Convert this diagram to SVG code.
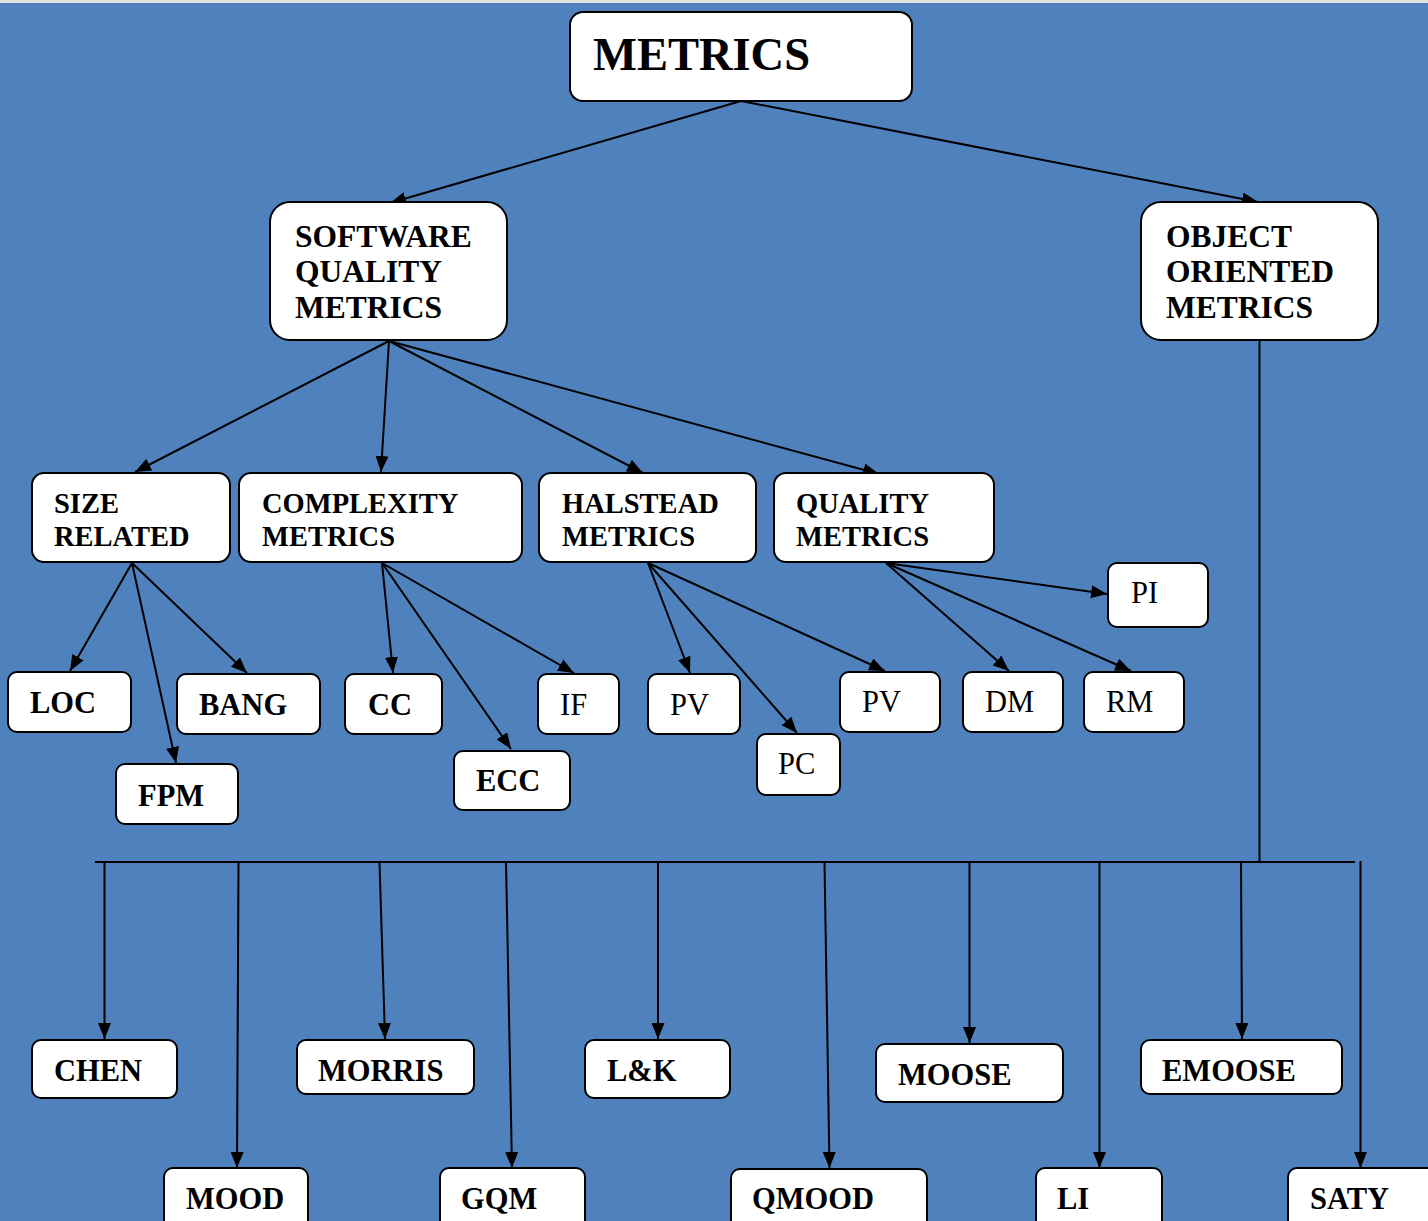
<svg xmlns="http://www.w3.org/2000/svg" width="1428" height="1221" viewBox="0 0 1428 1221">
<defs>
<marker id="ah" markerUnits="userSpaceOnUse" markerWidth="16" markerHeight="13" refX="16" refY="6.5" orient="auto">
<path d="M0,0 L16,6.5 L0,13 z" fill="#000"/>
</marker>
<style>
.box{fill:#fff;stroke:#000;stroke-width:2}
.t{font-family:"Liberation Serif","Times New Roman",serif;fill:#000}
.b{font-weight:bold}
.c{stroke:#000;stroke-width:2;fill:none}
.a{marker-end:url(#ah)}
</style>
</defs>
<rect x="0" y="0" width="1428" height="1221" fill="#4F81BD"/>
<rect x="0" y="0" width="1428" height="3" fill="#e2e2e2"/>

<g id="connectors">
<line class="c a" x1="741" y1="101" x2="390" y2="203"/>
<line class="c a" x1="741" y1="101" x2="1258" y2="202"/>
<line class="c a" x1="389" y1="341" x2="135" y2="472"/>
<line class="c a" x1="389" y1="341" x2="381" y2="472"/>
<line class="c a" x1="389" y1="341" x2="643" y2="473"/>
<line class="c a" x1="389" y1="341" x2="879" y2="474"/>
<line class="c a" x1="132" y1="563" x2="70" y2="671"/>
<line class="c a" x1="132" y1="563" x2="176" y2="763"/>
<line class="c a" x1="132" y1="563" x2="247" y2="673"/>
<line class="c a" x1="382" y1="563" x2="393" y2="673"/>
<line class="c a" x1="382" y1="563" x2="511" y2="749"/>
<line class="c a" x1="382" y1="563" x2="574" y2="673"/>
<line class="c a" x1="648" y1="563" x2="690" y2="673"/>
<line class="c a" x1="648" y1="563" x2="797" y2="733"/>
<line class="c a" x1="648" y1="563" x2="885" y2="671"/>
<line class="c a" x1="886" y1="563" x2="1107" y2="594"/>
<line class="c a" x1="886" y1="563" x2="1009" y2="671"/>
<line class="c a" x1="886" y1="563" x2="1131" y2="671"/>
<line class="c" x1="1259.5" y1="341" x2="1259.5" y2="862"/>
<line class="c" x1="95" y1="862" x2="1355" y2="862"/>
<line class="c a" x1="104.5" y1="862" x2="104.5" y2="1039"/>
<line class="c a" x1="238.5" y1="862" x2="237" y2="1168"/>
<line class="c a" x1="379.5" y1="862" x2="385" y2="1039"/>
<line class="c a" x1="506" y1="862" x2="512" y2="1168"/>
<line class="c a" x1="658" y1="862" x2="658" y2="1039"/>
<line class="c a" x1="824.5" y1="862" x2="829.5" y2="1168"/>
<line class="c a" x1="969.5" y1="862" x2="969.5" y2="1043"/>
<line class="c a" x1="1099.5" y1="862" x2="1099.5" y2="1168"/>
<line class="c a" x1="1241" y1="862" x2="1242" y2="1039"/>
<line class="c a" x1="1360.5" y1="861" x2="1360.5" y2="1168"/>
</g>

<g id="metrics">
<rect class="box" x="570" y="12" width="342" height="89" rx="13"/>
<text class="t b" x="593" y="70" font-size="46.5">METRICS</text>
</g>
<g id="sqm">
<rect class="box" x="270" y="202" width="237" height="138" rx="20"/>
<text class="t b" font-size="31.5"><tspan x="295" y="247">SOFTWARE</tspan><tspan x="295" y="282">QUALITY</tspan><tspan x="295" y="318">METRICS</tspan></text>
</g>
<g id="oom">
<rect class="box" x="1141" y="202" width="237" height="138" rx="20"/>
<text class="t b" font-size="31.5"><tspan x="1166" y="247">OBJECT</tspan><tspan x="1166" y="282">ORIENTED</tspan><tspan x="1166" y="318">METRICS</tspan></text>
</g>
<g id="size">
<rect class="box" x="32" y="473" width="198" height="89" rx="12"/>
<text class="t b" font-size="28.5"><tspan x="54" y="513">SIZE</tspan><tspan x="54" y="546">RELATED</tspan></text>
</g>
<g id="complexity">
<rect class="box" x="239" y="473" width="283" height="89" rx="12"/>
<text class="t b" font-size="28.5"><tspan x="262" y="513">COMPLEXITY</tspan><tspan x="262" y="546">METRICS</tspan></text>
</g>
<g id="halstead">
<rect class="box" x="539" y="473" width="217" height="89" rx="12"/>
<text class="t b" font-size="28.5"><tspan x="562" y="513">HALSTEAD</tspan><tspan x="562" y="546">METRICS</tspan></text>
</g>
<g id="quality">
<rect class="box" x="774" y="473" width="220" height="89" rx="12"/>
<text class="t b" font-size="28.5"><tspan x="796" y="513">QUALITY</tspan><tspan x="796" y="546">METRICS</tspan></text>
</g>

<g id="loc"><rect class="box" x="8" y="672" width="123" height="60" rx="9"/><text class="t b" x="30" y="713" font-size="30.5">LOC</text></g>
<g id="bang"><rect class="box" x="177" y="674" width="143" height="60" rx="9"/><text class="t b" x="199" y="715" font-size="30.5">BANG</text></g>
<g id="fpm"><rect class="box" x="116" y="764" width="122" height="60" rx="9"/><text class="t b" x="138" y="806" font-size="30.5">FPM</text></g>
<g id="cc"><rect class="box" x="345" y="674" width="97" height="60" rx="9"/><text class="t b" x="368" y="715" font-size="30.5">CC</text></g>
<g id="ecc"><rect class="box" x="454" y="751" width="116" height="59" rx="9"/><text class="t b" x="476" y="791" font-size="30.5">ECC</text></g>
<g id="if"><rect class="box" x="538" y="674" width="81" height="60" rx="9"/><text class="t" x="560" y="715" font-size="30.5">IF</text></g>
<g id="pv1"><rect class="box" x="648" y="674" width="92" height="60" rx="9"/><text class="t" x="670" y="715" font-size="30.5">PV</text></g>
<g id="pc"><rect class="box" x="757" y="734" width="83" height="61" rx="9"/><text class="t" x="778" y="774" font-size="30.5">PC</text></g>
<g id="pv2"><rect class="box" x="840" y="672" width="100" height="60" rx="9"/><text class="t" x="862" y="712" font-size="30.5">PV</text></g>
<g id="pi"><rect class="box" x="1108" y="563" width="100" height="64" rx="9"/><text class="t" x="1131" y="603" font-size="30.5">PI</text></g>
<g id="dm"><rect class="box" x="963" y="672" width="100" height="60" rx="9"/><text class="t" x="985" y="712" font-size="30.5">DM</text></g>
<g id="rm"><rect class="box" x="1084" y="672" width="100" height="60" rx="9"/><text class="t" x="1106" y="712" font-size="30.5">RM</text></g>

<g id="chen"><rect class="box" x="32" y="1040" width="145" height="58" rx="9"/><text class="t b" x="54" y="1081" font-size="30.5">CHEN</text></g>
<g id="morris"><rect class="box" x="297" y="1040" width="177" height="54" rx="9"/><text class="t b" x="318" y="1081" font-size="30.5">MORRIS</text></g>
<g id="lk"><rect class="box" x="585" y="1040" width="145" height="58" rx="9"/><text class="t b" x="607" y="1081" font-size="30.5">L&amp;K</text></g>
<g id="moose"><rect class="box" x="876" y="1044" width="187" height="58" rx="9"/><text class="t b" x="898" y="1085" font-size="30.5">MOOSE</text></g>
<g id="emoose"><rect class="box" x="1141" y="1040" width="201" height="54" rx="9"/><text class="t b" x="1162" y="1081" font-size="30.5">EMOOSE</text></g>
<g id="mood"><rect class="box" x="164" y="1168" width="144" height="70" rx="9"/><text class="t b" x="186" y="1209" font-size="30.5">MOOD</text></g>
<g id="gqm"><rect class="box" x="440" y="1168" width="145" height="70" rx="9"/><text class="t b" x="461" y="1209" font-size="30.5">GQM</text></g>
<g id="qmood"><rect class="box" x="731" y="1169" width="196" height="70" rx="9"/><text class="t b" x="752" y="1209" font-size="30.5">QMOOD</text></g>
<g id="li"><rect class="box" x="1036" y="1168" width="126" height="70" rx="9"/><text class="t b" x="1057" y="1209" font-size="30.5">LI</text></g>
<g id="saty"><rect class="box" x="1288" y="1168" width="160" height="70" rx="9"/><text class="t b" x="1310" y="1209" font-size="30.5">SATY</text></g>
</svg>
